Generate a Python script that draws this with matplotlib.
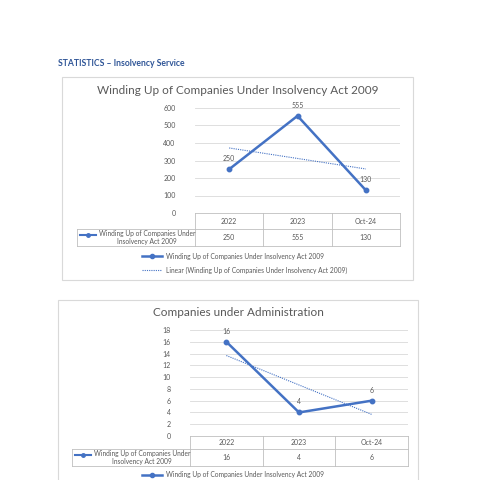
import numpy as np
import matplotlib
matplotlib.use("Agg")
import matplotlib.pyplot as plt
from matplotlib.patches import Rectangle
from matplotlib.lines import Line2D

plt.rcParams['font.family'] = ['Lato', 'DejaVu Sans']

categories = ["2022", "2023", "Oct-24"]
winding_up = [250, 555, 130]
administration = [16, 4, 6]
series_label = "Winding Up of Companies Under Insolvency Act 2009"
table_label = "Winding Up of Companies Under\nInsolvency Act 2009"
title1 = "Winding Up of Companies Under Insolvency Act 2009"
title2 = "Companies under Administration"

BLUE = "#4472C4"
GRID = "#D9D9D9"
TXT = "#595959"
W = H = 480.0

fig = plt.figure(figsize=(4.8, 4.8), dpi=100)
fig.patch.set_facecolor("white")

def fx(px): return px / W
def fy(py): return 1 - py / H

fig.text(fx(58), fy(64), "STATISTICS – Insolvency Service", color="#2F5597",
         fontsize=6.2, fontweight="bold", va="center")

def chart(box, ax_px, lab_px, title, title_y, vals, ymax, ystep, legend_y):
    bx0, by0, bx1, by1 = box
    fig.add_artist(Rectangle((fx(bx0), fy(by1)), fx(bx1 - bx0), (by1 - by0) / H,
                             transform=fig.transFigure, fill=False, ec="#D9D9D9", lw=0.8))
    fig.text(fx((bx0 + bx1) / 2), fy(title_y), title, ha="center", va="center",
             fontsize=8.5, color=TXT)
    x0, ytop, x1, ybot = ax_px
    ax = fig.add_axes([fx(x0), fy(ybot), fx(x1 - x0), (ybot - ytop) / H])
    xs = np.arange(len(vals)) + 0.5
    ax.set_xlim(0, len(vals))
    ax.set_ylim(0, ymax)
    ax.set_yticks(np.arange(0, ymax + 0.1, ystep))
    ax.tick_params(axis="y", length=0, labelsize=5, labelcolor=TXT, pad=14)
    ax.set_xticks([])
    ax.grid(axis="y", color=GRID, lw=0.6)
    ax.set_axisbelow(True)
    for s in ax.spines.values():
        s.set_visible(False)
    ax.plot(xs, vals, color=BLUE, lw=1.8, marker="o", ms=3.2)
    coef = np.polyfit(np.arange(len(vals)), vals, 1)
    trend = np.polyval(coef, np.arange(len(vals)))
    ax.plot(xs, trend, color=BLUE, lw=0.8, ls=(0, (1, 1)))
    for x, v in zip(xs, vals):
        ax.annotate(f"{v}", (x, v), xytext=(0, 5), textcoords="offset points",
                    ha="center", va="bottom", fontsize=5, color=TXT)
    lx0, hy0, hy1, vy1 = lab_px
    cw = (x1 - x0) / len(vals)
    lc = "#BFBFBF"
    def hline(y, xa, xb):
        fig.add_artist(Line2D([fx(xa), fx(xb)], [fy(y), fy(y)], color=lc, lw=0.6))
    def vline(x, ya, yb):
        fig.add_artist(Line2D([fx(x), fx(x)], [fy(ya), fy(yb)], color=lc, lw=0.6))
    hline(hy0, x0, x1); hline(hy1, lx0, x1); hline(vy1, lx0, x1)
    vline(lx0, hy1, vy1)
    for i in range(len(vals) + 1):
        vline(x0 + i * cw, hy0, vy1)
    for i, (c, v) in enumerate(zip(categories, vals)):
        cx = x0 + (i + 0.5) * cw
        fig.text(fx(cx), fy((hy0 + hy1) / 2), c, ha="center", va="center", fontsize=5, color=TXT)
        fig.text(fx(cx), fy((hy1 + vy1) / 2), str(v), ha="center", va="center", fontsize=5, color=TXT)
    ty = (hy1 + vy1) / 2 - 3
    fig.add_artist(Line2D([fx(lx0 + 3), fx(lx0 + 19)], [fy(ty)] * 2, color=BLUE, lw=1.5))
    fig.add_artist(Line2D([fx(lx0 + 11)], [fy(ty)], color=BLUE, marker="o", ms=2.5))
    fig.text(fx((lx0 + 20 + x0) / 2 + 1), fy((hy1 + vy1) / 2), table_label, ha="center",
             va="center", fontsize=4.8, color=TXT, linespacing=1.3)
    ly = legend_y
    lx = 142
    fig.add_artist(Line2D([fx(lx), fx(lx + 20)], [fy(ly), fy(ly)], color=BLUE, lw=1.8))
    fig.add_artist(Line2D([fx(lx + 10)], [fy(ly)], color=BLUE, marker="o", ms=3))
    fig.text(fx(lx + 24), fy(ly), series_label, va="center", fontsize=4.8, color=TXT)
    fig.add_artist(Line2D([fx(lx), fx(lx + 20)], [fy(ly + 14), fy(ly + 14)], color=BLUE,
                          lw=0.8, ls=(0, (1, 1))))
    fig.text(fx(lx + 24), fy(ly + 14), f"Linear ({series_label})", va="center",
             fontsize=4.8, color=TXT)

chart((62, 77, 413, 280), (195, 108, 400, 213), (77, 213, 229, 246), title1, 90,
      winding_up, 600, 100, 256)
chart((58, 300, 418, 490), (190, 330, 408, 436), (72, 436, 449, 466), title2, 313,
      administration, 18, 2, 475)

fig.savefig("out.png", dpi=100, facecolor="white")
